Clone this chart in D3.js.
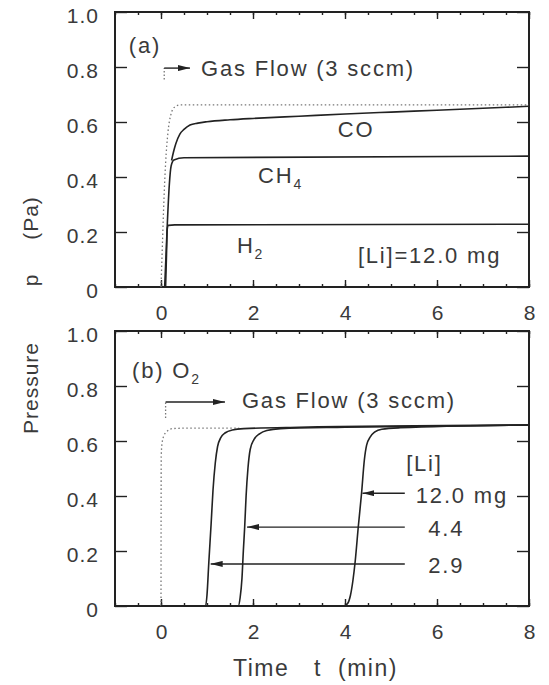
<!DOCTYPE html>
<html>
<head>
<meta charset="utf-8">
<script src="https://cdn.jsdelivr.net/npm/d3@7"></script>
<style>
  body { margin: 0; background: #fff; }
  svg { display: block; font-family: "Liberation Sans", Arial, sans-serif; }
</style>
</head>
<body>
<div id="chart"></div>
<script>
// time (min), pressure (Pa)
const refA = [[0, 0], [0.03, 0.15], [0.06, 0.3], [0.1, 0.45], [0.15, 0.56], [0.22, 0.63], [0.3, 0.655], [0.42, 0.662], [8, 0.662]];
const h2A = [[0.1, 0], [0.12, 0.12], [0.135, 0.21], [0.16, 0.224], [0.3, 0.226], [8, 0.228]];
const ch4A = [[0.08, 0], [0.11, 0.12], [0.14, 0.24], [0.18, 0.37], [0.22, 0.44], [0.28, 0.462], [0.5, 0.47], [8, 0.476]];
const coA = [[0.23, 0.46], [0.27, 0.49], [0.32, 0.52], [0.41, 0.556], [0.5, 0.573], [0.63, 0.589], [0.8, 0.596], [1, 0.601], [1.5, 0.608], [2, 0.613], [3, 0.621], [4, 0.629], [5, 0.636], [6, 0.643], [7, 0.65], [8, 0.657]];

const refB = [[0, 0], [0.005, 0.55], [0.03, 0.6], [0.1, 0.63], [0.25, 0.645], [0.6, 0.647], [1.7, 0.647]];
const li29B = [[0, 0], [0.97, 0], [1.0, 0.04], [1.04, 0.16], [1.09, 0.3], [1.13, 0.42], [1.18, 0.52], [1.23, 0.58], [1.3, 0.612], [1.4, 0.63], [1.55, 0.64], [1.8, 0.645], [3, 0.65], [8, 0.658]];
const li44B = [[0, 0], [1.68, 0], [1.72, 0.03], [1.76, 0.1], [1.79, 0.2], [1.82, 0.29], [1.85, 0.4], [1.89, 0.5], [1.94, 0.57], [2.02, 0.605], [2.15, 0.627], [2.3, 0.638], [2.6, 0.645], [4, 0.65], [8, 0.658]];
const li120B = [[0, 0], [3.98, 0], [4.06, 0.01], [4.12, 0.04], [4.17, 0.09], [4.22, 0.16], [4.29, 0.29], [4.36, 0.41], [4.42, 0.53], [4.47, 0.585], [4.55, 0.615], [4.65, 0.633], [4.8, 0.643], [5.2, 0.648], [8, 0.658]];

const xTicks = [0, 2, 4, 6, 8];
const yTicks = [0, 0.2, 0.4, 0.6, 0.8, 1.0];

const W = 549, H = 685;
const svg = d3.select('#chart').append('svg').attr('width', W).attr('height', H);

const x = d3.scaleLinear().domain([-1, 8]).range([115, 529]);
const yA = d3.scaleLinear().domain([0, 1]).range([287, 12]);
const yB = d3.scaleLinear().domain([0, 1]).range([606, 331]);

const ink = '#222';
const txt = '#3a3a3a';

svg.append('defs').append('marker')
  .attr('id', 'head')
  .attr('viewBox', '0 0 12 6')
  .attr('refX', 12).attr('refY', 3)
  .attr('markerWidth', 12).attr('markerHeight', 6)
  .attr('markerUnits', 'userSpaceOnUse')
  .attr('orient', 'auto')
  .append('path').attr('d', 'M0,0L12,3L0,6Z').attr('fill', ink);

function drawFrame(y) {
  const g = svg.append('g');
  const fmt = d => d === 0 ? '0' : d.toFixed(1);
  const top = y.range()[1], bottom = y.range()[0];

  const left = g.append('g').attr('transform', `translate(${x.range()[0]},0)`)
    .call(d3.axisLeft(y).tickValues(yTicks).tickSize(-12).tickPadding(16).tickFormat(fmt));
  left.selectAll('text').attr('dy', '0.5em').style('font-size', '21px').style('letter-spacing', '1px').attr('fill', txt);

  g.append('g').attr('transform', `translate(${x.range()[1]},0)`)
    .call(d3.axisRight(y).tickValues(yTicks).tickSize(-12).tickFormat(''));

  const bot = g.append('g').attr('transform', `translate(0,${bottom})`)
    .call(d3.axisBottom(x).tickValues(xTicks).tickSize(-7).tickPadding(18));
  bot.selectAll('text').style('font-size', '21px').attr('fill', txt);
  g.append('g').attr('transform', `translate(0,${bottom})`)
    .call(d3.axisBottom(x).tickValues(x.ticks(18)).tickSize(-3).tickFormat(''));
  g.append('g').attr('transform', `translate(0,${top})`)
    .call(d3.axisTop(x).tickValues(xTicks).tickSize(-7).tickFormat(''));
  g.append('g').attr('transform', `translate(0,${top})`)
    .call(d3.axisTop(x).tickValues(x.ticks(18)).tickSize(-3).tickFormat(''));

  g.selectAll('.domain').remove();
  g.selectAll('.tick line').attr('stroke', ink).attr('stroke-width', 1.4);

  g.append('rect')
    .attr('x', x.range()[0]).attr('y', top)
    .attr('width', x.range()[1] - x.range()[0]).attr('height', bottom - top)
    .attr('fill', 'none').attr('stroke', ink).attr('stroke-width', 2);
}

function drawSeries(y, data, dotted) {
  const line = d3.line().x(d => x(d[0])).y(d => y(d[1])).curve(d3.curveMonotoneX);
  svg.append('path').datum(data)
    .attr('d', line)
    .attr('fill', 'none')
    .attr('stroke', dotted ? '#777' : ink)
    .attr('stroke-width', dotted ? 1.3 : 1.6)
    .attr('stroke-dasharray', dotted ? '1.5,2.5' : null);
}

function label(y, t, p, str, sub, anchor) {
  const el = svg.append('text')
    .attr('x', x(t)).attr('y', y(p)).attr('dy', '0.36em')
    .attr('text-anchor', anchor || 'start')
    .style('font-size', '22px').style('letter-spacing', '1.8px')
    .attr('fill', txt)
    .text(str);
  if (sub) el.append('tspan').attr('dy', '0.45em').style('font-size', '14px').text(sub);
}

function flowArrow(y, t0, p0, p1, t1) {
  svg.append('line')
    .attr('x1', x(t0)).attr('x2', x(t0)).attr('y1', y(p0)).attr('y2', y(p1))
    .attr('stroke', '#777').attr('stroke-width', 1.3).attr('stroke-dasharray', '1.5,2');
  svg.append('line')
    .attr('x1', x(t0)).attr('x2', x(t1)).attr('y1', y(p1)).attr('y2', y(p1))
    .attr('stroke', ink).attr('stroke-width', 1.4).attr('marker-end', 'url(#head)');
}

// panel (a)
drawFrame(yA);
drawSeries(yA, refA, true);
drawSeries(yA, h2A);
drawSeries(yA, ch4A);
drawSeries(yA, coA);
label(yA, -0.7, 0.88, '(a)');
flowArrow(yA, 0.07, 0.755, 0.796, 0.63);
label(yA, 0.87, 0.796, 'Gas Flow (3 sccm)');
label(yA, 4.24, 0.575, 'CO', null, 'middle');
label(yA, 2.11, 0.407, 'CH', '4');
label(yA, 1.65, 0.153, 'H', '2');
label(yA, 4.28, 0.116, '[Li]=12.0 mg');

// panel (b)
drawFrame(yB);
drawSeries(yB, refB, true);
drawSeries(yB, li29B);
drawSeries(yB, li44B);
drawSeries(yB, li120B);
label(yB, -0.63, 0.858, '(b) O', '2');
flowArrow(yB, 0.1, 0.684, 0.742, 1.39);
label(yB, 1.76, 0.75, 'Gas Flow (3 sccm)');
label(yB, 5.33, 0.52, '[Li]');
label(yB, 5.54, 0.404, '12.0 mg');
label(yB, 6.2, 0.284, '4.4', null, 'middle');
label(yB, 6.2, 0.149, '2.9', null, 'middle');

const pointers = [[5.3, 4.38, 0.41], [5.3, 1.87, 0.287], [5.3, 1.08, 0.153]];
svg.selectAll('.ptr').data(pointers).enter().append('line')
  .attr('x1', d => x(d[0])).attr('x2', d => x(d[1]))
  .attr('y1', d => yB(d[2])).attr('y2', d => yB(d[2]))
  .attr('stroke', ink).attr('stroke-width', 1.4).attr('marker-end', 'url(#head)');

// axis titles
const yTitle = [['Pressure', 388], ['p', 280], ['(Pa)', 218]];
svg.selectAll('.ytitle').data(yTitle).enter().append('text')
  .attr('transform', d => `translate(38,${d[1]}) rotate(-90)`)
  .attr('text-anchor', 'middle')
  .style('font-size', '21px').style('letter-spacing', '1px')
  .attr('fill', txt)
  .text(d => d[0]);

const xTitle = [['Time', 233], ['t', 314], ['(min)', 338]];
svg.selectAll('.xtitle').data(xTitle).enter().append('text')
  .attr('x', d => d[1]).attr('y', 676)
  .style('font-size', '23px').style('letter-spacing', '1.5px')
  .attr('fill', txt)
  .text(d => d[0]);
</script>
</body>
</html>
